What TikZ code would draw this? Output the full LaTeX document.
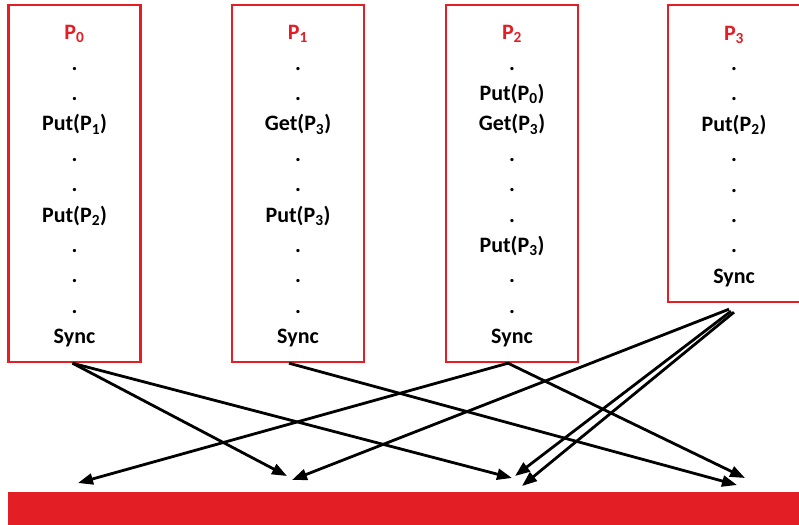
\documentclass[tikz,border=0pt]{standalone}
\usepackage{fontspec}
\setmainfont{Carlito}
\usetikzlibrary{arrows.meta}
\definecolor{procred}{RGB}{227,30,36}
\newcommand{\ptitle}[1]{\rule{0pt}{20pt}\textcolor{procred}{P\textsubscript{#1}}}

\begin{document}
\begin{tikzpicture}[
    x=1pt, y=-1pt,
    procbox/.style={
      draw=procred,
      line width=2.4pt,
      minimum width=132pt,
      align=center,
      font=\fontsize{22}{30.4}\selectfont\bfseries
    },
    msg/.style={
      -{Triangle[length=15pt,width=11pt]},
      line width=2.8pt
    }
  ]
  \useasboundingbox (0,0) rectangle (799,524);

  \node (p0) at (74.5,183.5) [procbox,minimum height=357pt]
    {\ptitle{0}\\.\\.\\Put(P\textsubscript{1})\\.\\.\\Put(P\textsubscript{2})\\.\\.\\.\\Sync};
  \node (p1) at (298,183.5) [procbox,minimum height=357pt]
    {\ptitle{1}\\.\\.\\Get(P\textsubscript{3})\\.\\.\\Put(P\textsubscript{3})\\.\\.\\.\\Sync};
  \node (p2) at (512,183.5) [procbox,minimum height=357pt]
    {\ptitle{2}\\.\\Put(P\textsubscript{0})\\Get(P\textsubscript{3})\\.\\.\\.\\Put(P\textsubscript{3})\\.\\.\\Sync};
  \node (p3) at (734,153.5) [procbox,minimum height=297pt]
    {\ptitle{3}\\.\\.\\Put(P\textsubscript{2})\\.\\.\\.\\.\\Sync};

  % shared memory bar
  \fill[procred] (8,492) rectangle (810,530);

  \coordinate (d0) at (78,483);
  \coordinate (d1a) at (287,476);
  \coordinate (d1b) at (292,480);
  \coordinate (d2a) at (512,478);
  \coordinate (d2b) at (515,476);
  \coordinate (d2c) at (522,486);
  \coordinate (d3a) at (737,485);
  \coordinate (d3b) at (745,478);

  \draw[msg] ([xshift=-2pt]p0.south) -- (d1a);
  \draw[msg] ([xshift=-2pt]p0.south) -- (d2a);
  \draw[msg] ([xshift=-9pt]p1.south) -- (d3a);
  \draw[msg] ([xshift=-4pt]p2.south) -- (d0);
  \draw[msg] ([xshift=-4pt]p2.south) -- (d3b);
  \draw[msg] ([xshift=-5pt,yshift=-6pt]p3.south) -- (d1b);
  \draw[msg] ([xshift=-3pt,yshift=-8pt]p3.south) -- (d2b);
  \draw[msg] ([xshift=0pt,yshift=-9pt]p3.south) -- (d2c);

\end{tikzpicture}
\end{document}
